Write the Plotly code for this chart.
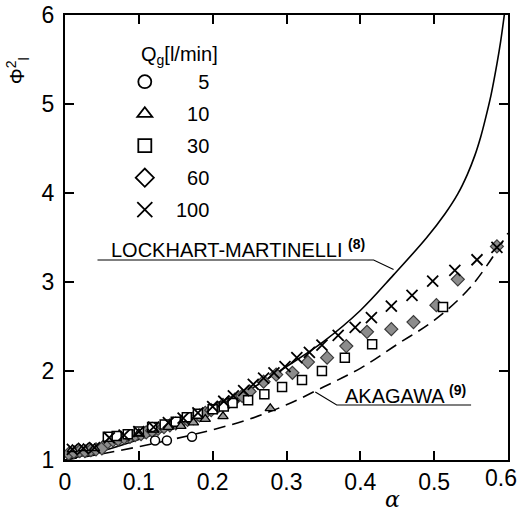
import plotly.graph_objects as go

# ---------------- data ----------------
# Lockhart-Martinelli correlation (solid)
lm_alpha = [0.0, 0.05, 0.10, 0.15, 0.20, 0.25, 0.30, 0.35, 0.40, 0.445, 0.49, 0.515, 0.532, 0.545,
            0.555, 0.563, 0.569, 0.577, 0.585, 0.590, 0.595]
lm_phi   = [1.0, 1.10, 1.23, 1.38, 1.57, 1.79, 2.05, 2.33, 2.68, 3.08, 3.50, 3.77, 3.99, 4.21,
            4.42, 4.63, 4.82, 5.10, 5.45, 5.70, 6.0]

# Akagawa correlation (dashed)
ak_alpha = [0.0, 0.05, 0.10, 0.15, 0.20, 0.25, 0.30, 0.35, 0.40, 0.45, 0.50, 0.55, 0.60]
ak_phi   = [1.0, 1.07, 1.15, 1.24, 1.34, 1.46, 1.62, 1.82, 2.03, 2.30, 2.57, 2.95, 3.55]

# Qg = 5 l/min
q5_alpha = [0.118, 0.122, 0.138, 0.172]
q5_phi   = [1.37, 1.22, 1.22, 1.26]

# Qg = 10 l/min
q10_alpha = [0.010, 0.025, 0.040, 0.100, 0.120, 0.140, 0.157, 0.174, 0.190, 0.214, 0.278]
q10_phi   = [1.12, 1.13, 1.13, 1.30, 1.34, 1.37, 1.38, 1.42, 1.46, 1.49, 1.58]

# Qg = 30 l/min
q30_alpha = [0.058, 0.070, 0.085, 0.100, 0.118, 0.135, 0.150, 0.165, 0.180, 0.200, 0.215, 0.227,
             0.248, 0.270, 0.294, 0.321, 0.348, 0.379, 0.416, 0.512]
q30_phi   = [1.26, 1.27, 1.29, 1.32, 1.37, 1.40, 1.43, 1.48, 1.52, 1.57, 1.60, 1.64,
             1.67, 1.74, 1.82, 1.90, 2.00, 2.15, 2.30, 2.72]

# Qg = 60 l/min
q60_alpha = [0.005, 0.012, 0.020, 0.027, 0.035, 0.042, 0.050, 0.058, 0.065, 0.072, 0.080, 0.088,
             0.095, 0.103, 0.110, 0.118, 0.126, 0.134, 0.142, 0.150, 0.158, 0.166, 0.174, 0.182,
             0.190, 0.198, 0.206, 0.214, 0.222, 0.230, 0.240, 0.250, 0.269, 0.286, 0.308, 0.329,
             0.355, 0.381, 0.409, 0.442, 0.472, 0.503, 0.532, 0.585]
q60_phi   = [1.07, 1.09, 1.10, 1.10, 1.11, 1.12, 1.13, 1.20, 1.22, 1.23, 1.25, 1.26,
             1.28, 1.29, 1.31, 1.33, 1.35, 1.37, 1.39, 1.41, 1.43, 1.45, 1.47, 1.50,
             1.53, 1.56, 1.59, 1.62, 1.65, 1.68, 1.72, 1.77, 1.88, 1.96, 1.98, 2.10,
             2.15, 2.28, 2.44, 2.47, 2.55, 2.74, 3.03, 3.40]

# Qg = 100 l/min
q100_alpha = [0.010, 0.025, 0.040, 0.060, 0.080, 0.100, 0.120, 0.140, 0.160, 0.180, 0.200, 0.215,
              0.228, 0.242, 0.255, 0.269, 0.283, 0.298, 0.314, 0.331, 0.348, 0.370, 0.393, 0.415,
              0.442, 0.470, 0.498, 0.528, 0.558, 0.585]
q100_phi   = [1.12, 1.13, 1.14, 1.25, 1.28, 1.32, 1.37, 1.42, 1.47, 1.53, 1.60, 1.66,
              1.72, 1.78, 1.85, 1.92, 1.98, 2.05, 2.15, 2.21, 2.29, 2.40, 2.49, 2.60,
              2.73, 2.85, 3.01, 3.13, 3.25, 3.39]

legend_title = "Q<sub>g</sub>[l/min]"
legend_labels = ["  \u2007\u20075", "  \u200710", "  \u200730", "  \u200760", "  100"]

x_ticks = [0, 0.1, 0.2, 0.3, 0.4, 0.5, 0.6]
x_ticktext = ["0", "0.1", "0.2", "0.3", "0.4", "0.5", "0.6"]
y_ticks = [1, 2, 3, 4, 5, 6]

# ---------------- figure ----------------
FONT = "Liberation Sans"
TICKSIZE = 23
fig = go.Figure()

fig.add_trace(go.Scatter(x=lm_alpha, y=lm_phi, mode="lines", line=dict(color="black", width=1.6),
                         line_shape="spline", line_smoothing=1.0, showlegend=False, hoverinfo="skip",
                         cliponaxis=True))
fig.add_trace(go.Scatter(x=ak_alpha, y=ak_phi, mode="lines", line=dict(color="black", width=1.6, dash="12px,7px"),
                         line_shape="spline", showlegend=False, hoverinfo="skip"))

# data marks
series = [
    (q60_alpha, q60_phi, "diamond", 10, "#8c8c8c", "#3a3a3a", 1.2),
    (q30_alpha, q30_phi, "square", 9, "white", "black", 1.5),
    (q10_alpha, q10_phi, "triangle-up", 9, "#9a9a9a", "black", 1.3),
    (q5_alpha, q5_phi, "circle", 9, "white", "black", 1.5),
    (q100_alpha, q100_phi, "x-thin", 11, "black", "black", 1.8),
]
for xa, ya, sym, size, fill, edge, lw in series:
    fig.add_trace(go.Scatter(
        x=xa, y=ya, mode="markers", showlegend=False,
        marker=dict(symbol=sym, size=size, color=fill, line=dict(color=edge, width=lw)),
        hoverinfo="skip"))

# legend entries (open symbols as in the key)
legend_syms = [("circle", 13), ("triangle-up", 13), ("square", 13), ("diamond", 14), ("x-thin", 15)]
for (sym, size), name in zip(legend_syms, legend_labels):
    fig.add_trace(go.Scatter(
        x=[None], y=[None], mode="markers", name=name, legendgroup=name,
        marker=dict(symbol=sym, size=size, color="white" if sym != "x-thin" else "black",
                    line=dict(color="black", width=1.8))))

axis_common = dict(showline=True, linecolor="black", linewidth=2, mirror="ticks",
                   ticks="inside", ticklen=9, tickwidth=1.6, tickcolor="black",
                   showgrid=False, zeroline=False, automargin=False,
                   tickfont=dict(family=FONT, size=TICKSIZE, color="black"))

# the last x label sits flush with the window edge, so it is drawn as an annotation
fig.update_xaxes(range=[0, 0.6], tickvals=x_ticks, ticktext=x_ticktext[:-1] + [""], **axis_common)
fig.update_yaxes(range=[1, 6], tickvals=y_ticks, ticklabelstandoff=4, **axis_common)
fig.add_annotation(text=x_ticktext[-1], x=x_ticks[-1], xref="x", y=0, yref="paper",
                   xanchor="right", yanchor="top", xshift=11, yshift=-3, showarrow=False,
                   font=dict(family=FONT, size=TICKSIZE, color="black"))

# axis titles
fig.add_annotation(text="<i>α</i>", xref="paper", yref="paper", x=0.74, y=-0.088,
                   showarrow=False, font=dict(family="DejaVu Serif", size=22, color="black"),
                   xanchor="center", yanchor="middle")
fig.add_annotation(text="Φ<sup>2</sup><sub>l</sub>", xref="paper", yref="paper", x=-0.107, y=0.875,
                   textangle=-90, showarrow=False, font=dict(family=FONT, size=20, color="black"),
                   xanchor="center", yanchor="middle")

# legend title
fig.add_annotation(text=legend_title, xref="paper", yref="paper", x=0.167, y=0.91,
                   xanchor="left", yanchor="middle", showarrow=False,
                   font=dict(family=FONT, size=20, color="black"))

# curve labels
fig.add_annotation(text="LOCKHART-MARTINELLI <sup><b>(8)</b></sup>", x=0.059, y=3.38, xref="x", yref="y",
                   xanchor="left", yanchor="middle", showarrow=False,
                   font=dict(family=FONT, size=20, color="black"))
fig.add_annotation(text="AKAGAWA <sup><b>(9)</b></sup>", x=0.376, y=1.74, xref="x", yref="y",
                   xanchor="left", yanchor="middle", showarrow=False,
                   font=dict(family=FONT, size=20, color="black"))

# leader lines
fig.add_shape(type="path", path="M 0.044 3.247 L 0.418 3.247 L 0.445 3.14",
              xref="x", yref="y", line=dict(color="black", width=1.1))
fig.add_shape(type="path", path="M 0.550 1.618 L 0.368 1.618 L 0.339 1.764",
              xref="x", yref="y", line=dict(color="black", width=1.1))

fig.update_layout(
    width=520, height=511,
    margin=dict(l=65, r=12, t=15, b=51),
    paper_bgcolor="white", plot_bgcolor="white",
    legend=dict(x=0.135, y=0.894, xanchor="left", yanchor="top",
                font=dict(family=FONT, size=20, color="black"),
                bgcolor="rgba(0,0,0,0)", tracegroupgap=3, itemsizing="trace"),
)

fig.write_html("out.html", config={"displayModeBar": False},
               post_script="document.body.style.margin='0px';")
